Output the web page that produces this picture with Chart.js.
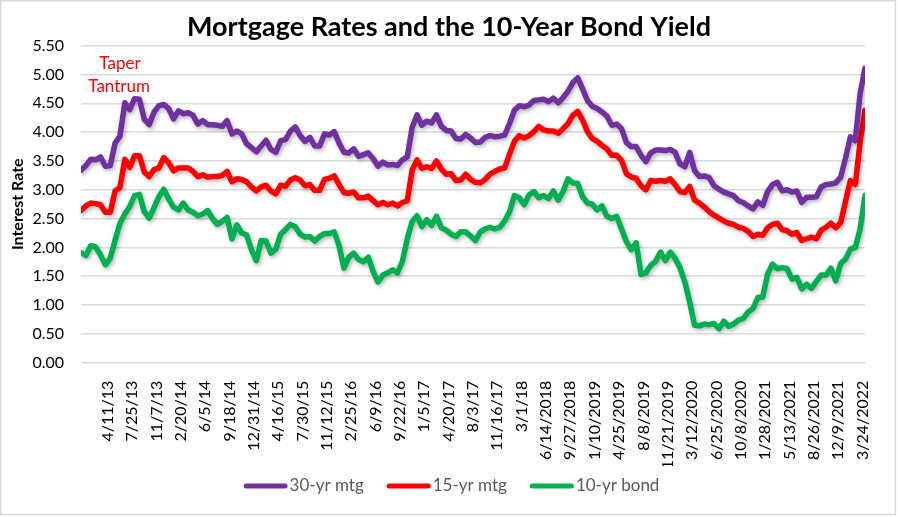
<!DOCTYPE html>
<html>
<head>
<meta charset="utf-8">
<title>Mortgage Rates and the 10-Year Bond Yield</title>
<script src="https://cdn.jsdelivr.net/npm/chart.js@4.4.1/dist/chart.umd.min.js"></script>
<style>
    html, body { margin: 0; padding: 0; background: #fff; }
    #wrap { width: 898px; height: 517px; position: relative; }
</style>
</head>
<body>
<div id="wrap"><canvas id="ratesChart"></canvas></div>
<script>
// week number since 1/3/2013 (week 0 .. 4/21/2022 = week 483), one reading every 3rd week
const weeks = [];
for (let w = 0; w <= 483; w += 3) weeks.push(w);

const mtg30 = [
    3.34, 3.42, 3.53, 3.52, 3.57, 3.41, 3.42, 3.81, 3.93, 4.51, 4.39, 4.58, 4.57, 4.22, 4.13, 4.35, 4.46, 4.48, // 2013
    4.41, 4.23, 4.37, 4.32, 4.34, 4.29, 4.14, 4.20, 4.13, 4.13, 4.12, 4.10, 4.20, 3.97, 4.02, 3.97, 3.80,       // 2014
    3.73, 3.66, 3.76, 3.86, 3.70, 3.65, 3.85, 3.87, 4.02, 4.09, 3.94, 3.84, 3.91, 3.76, 3.76, 3.97, 3.95, 4.01, // 2015
    3.81, 3.65, 3.64, 3.71, 3.58, 3.61, 3.64, 3.54, 3.41, 3.48, 3.43, 3.44, 3.42, 3.52, 3.57, 4.08, 4.30,       // 2016
    4.12, 4.19, 4.16, 4.30, 4.10, 4.03, 4.02, 3.89, 3.88, 3.96, 3.90, 3.82, 3.83, 3.91, 3.94, 3.92, 3.93,       // 2017
    3.95, 4.15, 4.38, 4.46, 4.44, 4.47, 4.55, 4.56, 4.57, 4.53, 4.59, 4.51, 4.60, 4.71, 4.86, 4.94, 4.75, 4.55, // 2018
    4.45, 4.41, 4.35, 4.28, 4.12, 4.14, 4.06, 3.82, 3.75, 3.75, 3.60, 3.49, 3.64, 3.69, 3.69, 3.68, 3.70,       // 2019
    3.65, 3.45, 3.40, 3.65, 3.33, 3.23, 3.24, 3.21, 3.07, 3.01, 2.96, 2.93, 2.90, 2.81, 2.78, 2.72, 2.67,       // 2020
    2.79, 2.73, 2.97, 3.09, 3.13, 2.98, 3.00, 2.96, 2.98, 2.78, 2.87, 2.87, 2.88, 3.05, 3.09, 3.10, 3.12,       // 2021
    3.22, 3.55, 3.92, 3.85, 4.67, 5.11                                                                          // 2022
];

const mtg15 = [
    2.64, 2.72, 2.77, 2.76, 2.74, 2.61, 2.61, 2.98, 3.04, 3.53, 3.39, 3.59, 3.59, 3.31, 3.23, 3.35, 3.38, 3.56,
    3.47, 3.33, 3.38, 3.38, 3.38, 3.32, 3.23, 3.26, 3.22, 3.23, 3.23, 3.25, 3.32, 3.14, 3.19, 3.18, 3.14,
    3.05, 2.98, 3.05, 3.08, 2.98, 2.93, 3.08, 3.06, 3.17, 3.21, 3.17, 3.07, 3.09, 2.99, 2.99, 3.18, 3.20, 3.24,
    3.09, 2.95, 2.94, 2.96, 2.86, 2.86, 2.89, 2.81, 2.74, 2.78, 2.74, 2.77, 2.72, 2.78, 2.81, 3.34, 3.52,
    3.37, 3.40, 3.37, 3.50, 3.36, 3.27, 3.28, 3.16, 3.17, 3.27, 3.18, 3.13, 3.12, 3.18, 3.27, 3.32, 3.36,
    3.38, 3.62, 3.84, 3.94, 3.90, 3.94, 4.01, 4.10, 4.04, 4.02, 4.02, 3.98, 4.06, 4.15, 4.29, 4.36, 4.21, 4.01,
    3.89, 3.84, 3.77, 3.71, 3.60, 3.60, 3.51, 3.28, 3.22, 3.20, 3.07, 3.00, 3.16, 3.15, 3.16, 3.15, 3.19,
    3.09, 2.97, 2.95, 3.06, 2.82, 2.77, 2.70, 2.62, 2.56, 2.51, 2.46, 2.42, 2.40, 2.35, 2.33, 2.28, 2.19,
    2.23, 2.21, 2.34, 2.40, 2.42, 2.31, 2.29, 2.23, 2.26, 2.12, 2.15, 2.18, 2.15, 2.30, 2.35, 2.42, 2.34,
    2.43, 2.80, 3.16, 3.09, 3.83, 4.38
];

const bond10 = [
    1.91, 1.86, 2.03, 2.01, 1.87, 1.70, 1.81, 2.13, 2.42, 2.58, 2.71, 2.90, 2.92, 2.62, 2.51, 2.69, 2.88, 3.01,
    2.84, 2.70, 2.65, 2.77, 2.65, 2.61, 2.55, 2.58, 2.64, 2.50, 2.40, 2.45, 2.52, 2.15, 2.39, 2.25, 2.22,
    1.96, 1.77, 2.12, 2.11, 1.90, 1.97, 2.23, 2.31, 2.40, 2.36, 2.23, 2.18, 2.19, 2.11, 2.19, 2.24, 2.24, 2.27,
    2.03, 1.64, 1.83, 1.90, 1.79, 1.75, 1.83, 1.58, 1.40, 1.52, 1.56, 1.61, 1.56, 1.76, 2.15, 2.45, 2.55,
    2.36, 2.48, 2.38, 2.54, 2.34, 2.30, 2.23, 2.19, 2.27, 2.27, 2.20, 2.12, 2.27, 2.32, 2.35, 2.32, 2.35,
    2.46, 2.62, 2.90, 2.86, 2.74, 2.91, 2.97, 2.86, 2.90, 2.85, 2.98, 2.82, 2.97, 3.19, 3.12, 3.11, 2.88, 2.77,
    2.75, 2.65, 2.72, 2.54, 2.50, 2.54, 2.32, 2.10, 1.96, 2.08, 1.53, 1.56, 1.69, 1.76, 1.92, 1.77, 1.92,
    1.81, 1.65, 1.40, 1.05, 0.65, 0.64, 0.67, 0.66, 0.68, 0.59, 0.72, 0.63, 0.67, 0.74, 0.77, 0.88, 0.94,
    1.13, 1.14, 1.54, 1.71, 1.63, 1.65, 1.63, 1.45, 1.48, 1.28, 1.36, 1.29, 1.41, 1.52, 1.52, 1.64, 1.42,
    1.72, 1.80, 1.97, 2.00, 2.32, 2.90
];

// axis labels appear on every 15th week, starting at week 14
const tickLabels = ['4/11/13', '7/25/13', '11/7/13', '2/20/14', '6/5/14', '9/18/14', '12/31/14', '4/16/15',
    '7/30/15', '11/12/15', '2/25/16', '6/9/16', '9/22/16', '1/5/17', '4/20/17', '8/3/17', '11/16/17', '3/1/18',
    '6/14/2018', '9/27/2018', '1/10/2019', '4/25/2019', '8/8/2019', '11/21/2019', '3/12/2020', '6/25/2020',
    '10/8/2020', '1/28/2021', '5/13/2021', '8/26/2021', '12/9/2021', '3/24/2022'];
const tickWeeks = tickLabels.map((_, i) => 14 + 15 * i);

// "Taper Tantrum" note, placed in data units
const noteText = ['Taper', 'Tantrum'];
const noteWeek = [24, 23.5];
const noteRate = [5.19, 4.80];

const FONT = 'Lato';

const frame = {
    id: 'frame',
    beforeDraw(chart) {
        const { ctx, width, height } = chart;
        ctx.save();
        ctx.fillStyle = '#fff';
        ctx.fillRect(0, 0, width, height);
        ctx.strokeStyle = '#d9d9d9';
        ctx.lineWidth = 1.5;
        ctx.strokeRect(0.75, 0.75, width - 3.25, height - 3.25);
        ctx.restore();
    }
};

// soft drop shadow under each line, like the Excel original
const lineShadow = {
    id: 'lineShadow',
    beforeDatasetDraw(chart) {
        const ctx = chart.ctx;
        ctx.save();
        ctx.shadowColor = 'rgba(0, 0, 0, 0.3)';
        ctx.shadowBlur = 4;
        ctx.shadowOffsetX = 1.5;
        ctx.shadowOffsetY = 2;
    },
    afterDatasetDraw(chart) {
        chart.ctx.restore();
    }
};

const taperNote = {
    id: 'taperNote',
    afterDatasetsDraw(chart) {
        const { ctx, scales } = chart;
        ctx.save();
        ctx.font = `17px ${FONT}`;
        ctx.fillStyle = '#ff0000';
        ctx.textAlign = 'center';
        ctx.textBaseline = 'middle';
        noteText.forEach((t, i) => {
            ctx.fillText(t, scales.x.getPixelForValue(noteWeek[i]), scales.y.getPixelForValue(noteRate[i]));
        });
        ctx.restore();
    }
};

// bottom legend drawn by hand so it can sit under the long rotated date labels
const lineLegend = {
    id: 'lineLegend',
    afterDraw(chart) {
        const { ctx } = chart;
        const sets = chart.data.datasets;
        const lineLen = 39, cap = 2.5, gapText = 4.5, gapItem = 25.5;
        ctx.save();
        ctx.font = `17px ${FONT}`;
        const widths = sets.map(ds => ctx.measureText(ds.label).width);
        const span = cap + widths.reduce((s, w) => s + lineLen + gapText + w, 0) + gapItem * (sets.length - 1);
        let x = 451.5 - span / 2 + cap;
        const y = 486;
        sets.forEach((ds, i) => {
            ctx.strokeStyle = ds.borderColor;
            ctx.lineWidth = 5;
            ctx.lineCap = 'round';
            ctx.beginPath();
            ctx.moveTo(x, y);
            ctx.lineTo(x + lineLen, y);
            ctx.stroke();
            ctx.fillStyle = '#595959';
            ctx.textAlign = 'left';
            ctx.textBaseline = 'middle';
            ctx.fillText(ds.label, x + lineLen + gapText, y);
            x += lineLen + gapText + widths[i] + gapItem;
        });
        ctx.restore();
    }
};

function series(label, values, color) {
    return {
        label: label,
        data: weeks.map((w, i) => ({ x: w, y: values[i] })),
        borderColor: color,
        backgroundColor: color,
        borderWidth: 5.5,
        borderCapStyle: 'round',
        borderJoinStyle: 'round',
        pointRadius: 0,
        tension: 0,
        fill: false
    };
}

new Chart(document.getElementById('ratesChart'), {
    type: 'line',
    data: {
        datasets: [
            series('30-yr mtg', mtg30, '#7030A0'),
            series('15-yr mtg', mtg15, '#FF0000'),
            series('10-yr bond', bond10, '#00B050')
        ]
    },
    options: {
        responsive: true,
        maintainAspectRatio: false,
        animation: false,
        layout: { padding: { left: 33, right: 33, top: 0, bottom: 51 } },
        plugins: {
            title: {
                display: true,
                text: 'Mortgage Rates and the 10-Year Bond Yield',
                color: '#000',
                font: { family: FONT, size: 27, weight: 'bold' },
                padding: { top: 11, bottom: 2.3 }
            },
            legend: { display: false },
            tooltip: { enabled: false }
        },
        scales: {
            x: {
                type: 'linear',
                min: 0,
                max: 483,
                grid: { display: false },
                border: { display: false },
                afterBuildTicks: axis => {
                    axis.ticks = tickWeeks.map(v => ({ value: v }));
                },
                afterFit: axis => { axis.height = 103.3; },
                ticks: {
                    autoSkip: false,
                    minRotation: 90,
                    maxRotation: 90,
                    padding: 10,
                    labelOffset: 4,
                    color: '#000',
                    font: { family: FONT, size: 16 },
                    callback: (value, index) => tickLabels[index]
                }
            },
            y: {
                min: 0,
                max: 5.5,
                border: { display: false },
                grid: { color: '#d9d9d9', lineWidth: 1.5, drawTicks: false },
                afterFit: axis => { axis.width = 48; },
                ticks: {
                    stepSize: 0.5,
                    padding: 17,
                    color: '#000',
                    font: { family: FONT, size: 16 },
                    callback: v => v.toFixed(2)
                },
                title: {
                    display: true,
                    text: 'Interest Rate',
                    color: '#000',
                    font: { family: FONT, size: 16, weight: 'bold' },
                    padding: { top: -24.6, bottom: 0 }
                }
            }
        }
    },
    plugins: [frame, lineShadow, taperNote, lineLegend]
});
</script>
</body>
</html>
